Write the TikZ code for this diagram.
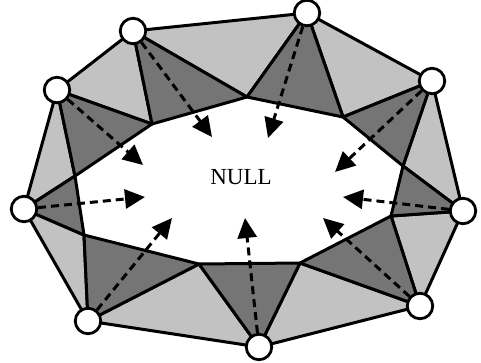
\documentclass[tikz,border=0pt]{standalone}
\usepackage{fontspec}
\setmainfont{Liberation Serif}
\usetikzlibrary{arrows.meta}
\begin{document}
\begin{tikzpicture}[x=1pt,y=-1pt,
  edge/.style={draw=black,line width=3pt,line join=round},
  lightface/.style={edge,fill=black!24},
  darkface/.style={edge,fill=black!54},
  vertex/.style={circle,draw=black,fill=white,line width=2.8pt,minimum size=25.5pt,inner sep=0pt},
  flow/.style={line width=3pt,dash pattern=on 8pt off 5pt,-{Triangle[length=20pt,width=19pt]}},
]
\useasboundingbox (0,0) rectangle (481,362);
% outer vertices
\coordinate (pA) at (133,31);
\coordinate (pB) at (57,90);
\coordinate (pC) at (24,209);
\coordinate (pD) at (88,321);
\coordinate (pE) at (259,347);
\coordinate (pF) at (420,306);
\coordinate (pG) at (463,211);
\coordinate (pH) at (432,81);
\coordinate (pI) at (307,13);
% inner vertices
\coordinate (q1) at (75,176);
\coordinate (q2) at (152,124);
\coordinate (q3) at (247,97);
\coordinate (q4) at (343,117);
\coordinate (q5) at (403,166);
\coordinate (q6) at (391,216);
\coordinate (q7) at (300,263);
\coordinate (q8) at (199,264);
\coordinate (q9) at (84,235);
% light triangles
\path[lightface] (pA) -- (pI) -- (q3) -- cycle;
\path[lightface] (pI) -- (pH) -- (q4) -- cycle;
\path[lightface] (pH) -- (pG) -- (q5) -- cycle;
\path[lightface] (pG) -- (pF) -- (q6) -- cycle;
\path[lightface] (pF) -- (pE) -- (q7) -- cycle;
\path[lightface] (pE) -- (pD) -- (q8) -- cycle;
\path[lightface] (pD) -- (pC) -- (q9) -- cycle;
\path[lightface] (pC) -- (pB) -- (q1) -- cycle;
\path[lightface] (pB) -- (pA) -- (q2) -- cycle;
% dark triangles
\path[darkface] (pA) -- (q2) -- (q3) -- cycle;
\path[darkface] (pI) -- (q3) -- (q4) -- cycle;
\path[darkface] (pH) -- (q4) -- (q5) -- cycle;
\path[darkface] (pG) -- (q5) -- (q6) -- cycle;
\path[darkface] (pF) -- (q6) -- (q7) -- cycle;
\path[darkface] (pE) -- (q7) -- (q8) -- cycle;
\path[darkface] (pD) -- (q8) -- (q9) -- cycle;
\path[darkface] (pC) -- (q9) -- (q1) -- cycle;
\path[darkface] (pB) -- (q1) -- (q2) -- cycle;
% vertex circles
\foreach \v in {A,B,C,D,E,F,G,H,I}{\node[vertex] (\v) at (p\v) {};}
% arrow tips
\coordinate (tA) at (212,137);
\coordinate (tB) at (143,165);
\coordinate (tC) at (145,197);
\coordinate (tD) at (172,218);
\coordinate (tE) at (245,218);
\coordinate (tF) at (323,218);
\coordinate (tG) at (343,197);
\coordinate (tH) at (335,172);
\coordinate (tI) at (268,138);
\foreach \v in {A,B,C,D,E,F,G,H,I}{\draw[flow] (\v) -- (t\v);}
\node (null) at (241,177) {\fontsize{23}{23}\selectfont NULL};
\end{tikzpicture}
\end{document}
